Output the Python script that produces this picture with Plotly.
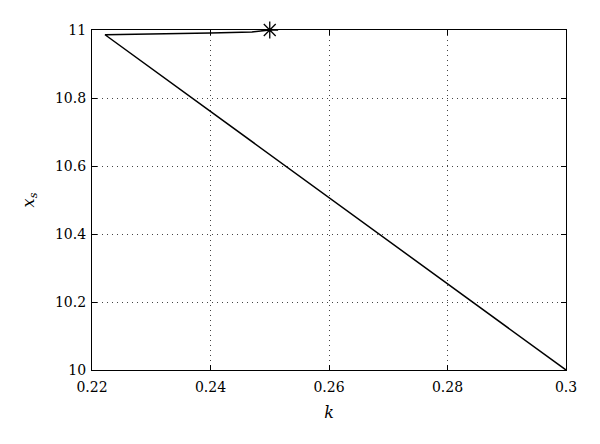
import plotly.graph_objects as go

k_vals = [0.3, 0.2222, 0.240, 0.247, 0.250]
xs_vals = [10.0, 10.986, 10.991, 10.994, 11.0]
star_k = [0.25]
star_xs = [11.0]
x_ticks = [0.22, 0.24, 0.26, 0.28, 0.3]
x_ticklabels = ["0.22", "0.24", "0.26", "0.28", "0.3"]
y_ticks = [10, 10.2, 10.4, 10.6, 10.8, 11]
y_ticklabels = ["10", "10.2", "10.4", "10.6", "10.8", "11"]

fig = go.Figure()
fig.add_trace(go.Scatter(x=k_vals, y=xs_vals, mode="lines",
                         line=dict(color="black", width=1.5), showlegend=False))
fig.add_trace(go.Scatter(x=star_k, y=star_xs, mode="markers",
                         marker=dict(symbol="asterisk-open", size=14, color="black",
                                     line=dict(color="black", width=1.3)),
                         showlegend=False, cliponaxis=False))

FAM = "DejaVu Serif, serif"
font = dict(family=FAM, size=14, color="black")
axis_common = dict(showgrid=True, gridcolor="#444444", griddash="1px,4px", gridwidth=1,
                   showline=True, linecolor="black", linewidth=1.2, mirror="ticks",
                   ticks="inside", ticklen=5, tickcolor="black", zeroline=False,
                   automargin=False, tickfont=font)
fig.update_layout(
    width=600, height=444,
    margin=dict(l=92, r=34, t=30, b=74),
    paper_bgcolor="white", plot_bgcolor="white",
    font=font,
    xaxis=dict(range=[0.22, 0.3], tickvals=x_ticks, ticktext=x_ticklabels,
               ticklabelstandoff=4,
               title=dict(text="<i>k</i>", standoff=12,
                          font=dict(family=FAM, size=16, color="black")),
               **axis_common),
    yaxis=dict(range=[10, 11], tickvals=y_ticks, ticktext=y_ticklabels,
               ticklabelstandoff=2,
               title=dict(text="<i>x<sub>s</sub></i>", standoff=16,
                          font=dict(family=FAM, size=16, color="black")),
               **axis_common),
)
fig.write_html("out.html", config={"displayModeBar": False},
               post_script="document.body.style.margin='0';")
